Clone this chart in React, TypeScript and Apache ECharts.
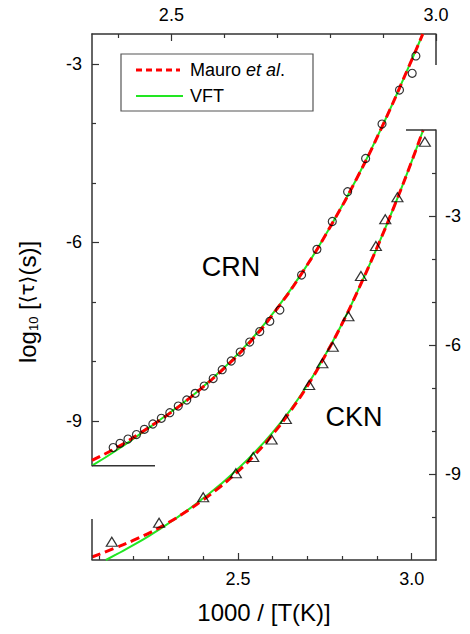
import React, { useEffect, useRef } from 'react';
import * as echarts from 'echarts';

// ---------- CRN (top x-axis, left y-axis) ----------
const crnDataX = [2.390, 2.403, 2.418, 2.434, 2.449, 2.465, 2.481, 2.497, 2.513, 2.529, 2.545, 2.562, 2.579, 2.596, 2.613, 2.630, 2.648, 2.667, 2.686, 2.705, 2.746, 2.775, 2.804, 2.833, 2.867, 2.898, 2.931, 2.955, 2.962];
const crnDataY = [-9.445, -9.374, -9.302, -9.227, -9.139, -9.050, -8.954, -8.860, -8.748, -8.647, -8.535, -8.412, -8.286, -8.138, -7.992, -7.841, -7.673, -7.497, -7.325, -7.136, -6.548, -6.116, -5.649, -5.149, -4.591, -4.012, -3.441, -3.160, -2.869];

const crnVftX = [2.35, 2.40, 2.45, 2.50, 2.55, 2.60, 2.65, 2.70, 2.75, 2.80, 2.85, 2.90, 2.95, 2.975];
const crnVftY = [-9.75, -9.47, -9.16, -8.84, -8.50, -8.10, -7.64, -7.10, -6.47, -5.74, -4.93, -4.02, -3.02, -2.5];

const crnMauroX = [2.35, 2.40, 2.45, 2.50, 2.55, 2.60, 2.65, 2.70, 2.75, 2.80, 2.85, 2.90, 2.95, 2.975];
const crnMauroY = [-9.66, -9.43, -9.15, -8.85, -8.50, -8.11, -7.66, -7.11, -6.47, -5.74, -4.93, -4.02, -3.02, -2.5];

// ---------- CKN (bottom x-axis, right y-axis) ----------
const cknDataX = [2.137, 2.273, 2.400, 2.494, 2.544, 2.597, 2.638, 2.705, 2.743, 2.773, 2.818, 2.854, 2.897, 2.924, 2.959, 3.038];
const cknDataY = [-10.574, -10.133, -9.542, -8.984, -8.605, -8.198, -7.721, -6.930, -6.426, -6.040, -5.333, -4.395, -3.698, -3.077, -2.565, -1.272];

const cknVftX = [2.12, 2.15, 2.20, 2.25, 2.30, 2.35, 2.40, 2.45, 2.50, 2.55, 2.60, 2.65, 2.70, 2.75, 2.80, 2.85, 2.90, 2.95, 3.00, 3.033];
const cknVftY = [-11.0, -10.87, -10.65, -10.41, -10.15, -9.87, -9.565, -9.24, -8.88, -8.48, -8.03, -7.52, -6.93, -6.25, -5.50, -4.65, -3.74, -2.77, -1.73, -1.0];

const cknMauroX = [2.08, 2.15, 2.20, 2.25, 2.30, 2.35, 2.40, 2.45, 2.50, 2.55, 2.60, 2.65, 2.70, 2.75, 2.80, 2.85, 2.90, 2.95, 3.00, 3.033];
const cknMauroY = [-10.93, -10.71, -10.54, -10.35, -10.13, -9.88, -9.60, -9.29, -8.94, -8.54, -8.08, -7.55, -6.95, -6.26, -5.50, -4.65, -3.74, -2.77, -1.73, -1.0];

// ---------- ticks / labels ----------
const topMajor = [2.5, 3.0];
const topMinor = [2.4, 2.6, 2.7, 2.8, 2.9];
const bottomMajor = [2.5, 3.0];
const bottomMinor = [2.1, 2.2, 2.3, 2.4, 2.6, 2.7, 2.8, 2.9];
const leftMajor = [-9, -6, -3];
const leftMinor = [-8, -7, -5, -4];
const rightMajor = [-9, -6, -3];
const rightMinor = [-10, -8, -7, -5, -4, -2];

const zip = (xs: number[], ys: number[]) => xs.map((x, i) => [x, ys[i]]);

const FONT = '"Liberation Sans", Arial, sans-serif';
const AXIS_COLOR = '#333';
const RED = '#ff0000';
const GREEN = '#22e622';

export default function App() {
  const ref = useRef<HTMLDivElement>(null);
  useEffect(() => {
    document.body.style.margin = '0';
    const chart = echarts.init(ref.current!, null, { renderer: 'svg' });

    const tickStyle = { color: AXIS_COLOR, width: 1.2 };
    const labelBase = { show: true, color: '#000', fontSize: 18, fontFamily: FONT, margin: 10 };
    const mainAxis = (pos: string, gridIndex: number, min: number, max: number, major: number[], fmt: (v: number) => string, margin = 10) => ({
      type: 'value', gridIndex, position: pos, min, max,
      axisLine: { show: true, lineStyle: { color: AXIS_COLOR, width: 1.5 } },
      splitLine: { show: false },
      axisTick: { show: true, inside: true, length: 7, customValues: major, lineStyle: tickStyle },
      axisLabel: { ...labelBase, margin, customValues: major, formatter: fmt },
    });
    const minorAxis = (pos: string, gridIndex: number, min: number, max: number, vals: number[]) => ({
      type: 'value', gridIndex, position: pos, min, max,
      axisLine: { show: false },
      splitLine: { show: false },
      axisLabel: { show: false },
      axisTick: { show: true, inside: true, length: 4, customValues: vals, lineStyle: tickStyle },
    });
    const fx = (v: number) => v.toFixed(1);
    const fy = (v: number) => String(v);

    const lineCommon = { smooth: 0.5, symbol: 'none' };

    const option: any = {
      animation: false,
      grid: [
        { left: 92, top: 34, width: 344, height: 431.7, outerBoundsMode: 'none', containLabel: false },
        { left: 92, top: 130, width: 344, height: 430, outerBoundsMode: 'none', containLabel: false },
      ],
      xAxis: [
        mainAxis('top', 0, 2.35, 3.0, topMajor, fx),
        minorAxis('top', 0, 2.35, 3.0, topMinor),
        {
          ...mainAxis('bottom', 1, 2.08, 3.07, bottomMajor, fx),
          name: '1000 / [T(K)]', nameLocation: 'middle', nameGap: 40,
          nameTextStyle: { fontSize: 24, fontFamily: FONT, color: '#000' },
        },
        minorAxis('bottom', 1, 2.08, 3.07, bottomMinor),
      ],
      yAxis: [
        mainAxis('left', 0, -9.75, -2.5, leftMajor, fy),
        minorAxis('left', 0, -9.75, -2.5, leftMinor),
        mainAxis('right', 1, -11, -1, rightMajor, fy, 9),
        minorAxis('right', 1, -11, -1, rightMinor),
      ],
      series: [
        {
          name: 'VFT', type: 'line', xAxisIndex: 0, yAxisIndex: 0, data: zip(crnVftX, crnVftY),
          ...lineCommon, lineStyle: { color: GREEN, width: 2 }, z: 2,
        },
        {
          name: 'Mauro et al.', type: 'line', xAxisIndex: 0, yAxisIndex: 0, data: zip(crnMauroX, crnMauroY),
          ...lineCommon, lineStyle: { color: RED, width: 3, type: [9, 5] }, z: 3,
        },
        {
          name: 'CRN', type: 'scatter', xAxisIndex: 0, yAxisIndex: 0, data: zip(crnDataX, crnDataY),
          symbol: 'circle', symbolSize: 8,
          itemStyle: { color: 'rgba(0,0,0,0)', borderColor: '#000', borderWidth: 1.2 }, z: 4,
        },
        {
          name: 'VFT', type: 'line', xAxisIndex: 2, yAxisIndex: 2, data: zip(cknVftX, cknVftY),
          ...lineCommon, lineStyle: { color: GREEN, width: 2 }, z: 2,
        },
        {
          name: 'Mauro et al.', type: 'line', xAxisIndex: 2, yAxisIndex: 2, data: zip(cknMauroX, cknMauroY),
          ...lineCommon, lineStyle: { color: RED, width: 3, type: [9, 5] }, z: 3,
        },
        {
          name: 'CKN', type: 'scatter', xAxisIndex: 2, yAxisIndex: 2, data: zip(cknDataX, cknDataY),
          symbol: 'triangle', symbolSize: [11, 9],
          itemStyle: { color: 'rgba(0,0,0,0)', borderColor: '#000', borderWidth: 1.2 }, z: 4,
        },
      ],
      graphic: [
        // partial frame pieces
        { type: 'line', z: 50, shape: { x1: 436, y1: 34, x2: 436, y2: 65 }, style: { stroke: AXIS_COLOR, lineWidth: 1.5 } },
        { type: 'line', z: 50, shape: { x1: 92, y1: 465.7, x2: 155, y2: 465.7 }, style: { stroke: AXIS_COLOR, lineWidth: 1.5 } },
        { type: 'line', z: 50, shape: { x1: 92, y1: 519, x2: 92, y2: 560 }, style: { stroke: AXIS_COLOR, lineWidth: 1.5 } },
        { type: 'line', z: 50, shape: { x1: 406, y1: 130, x2: 436, y2: 130 }, style: { stroke: AXIS_COLOR, lineWidth: 1.5 } },
        // legend
        { type: 'rect', z: 60, shape: { x: 121, y: 54, width: 192, height: 57 }, style: { fill: '#fff', stroke: '#555', lineWidth: 1.2 } },
        { type: 'line', z: 61, shape: { x1: 136, y1: 70, x2: 180, y2: 70 }, style: { stroke: RED, lineWidth: 3, lineDash: [6, 4] } },
        { type: 'line', z: 61, shape: { x1: 136, y1: 96, x2: 183, y2: 96 }, style: { stroke: GREEN, lineWidth: 2 } },
        {
          type: 'text', z: 61, x: 190, y: 70,
          style: {
            text: '{n|Mauro }{i|et al}{n|.}', verticalAlign: 'middle', align: 'left',
            rich: {
              n: { fontSize: 18, fontFamily: FONT, fill: '#000' },
              i: { fontSize: 18, fontFamily: FONT, fontStyle: 'italic', fill: '#000' },
            },
          },
        },
        {
          type: 'text', z: 61, x: 190, y: 96,
          style: { text: 'VFT', fontSize: 18, fontFamily: FONT, fill: '#000', verticalAlign: 'middle', align: 'left' },
        },
        // labels
        { type: 'text', z: 61, x: 231, y: 267, style: { text: 'CRN', fontSize: 27, fontFamily: FONT, fill: '#000', align: 'center', verticalAlign: 'middle' } },
        { type: 'text', z: 61, x: 354, y: 417, style: { text: 'CKN', fontSize: 27, fontFamily: FONT, fill: '#000', align: 'center', verticalAlign: 'middle' } },
        // y-axis title
        {
          type: 'text', z: 61, x: 27, y: 302, rotation: Math.PI / 2,
          style: {
            text: '{n|log}{s|10}{n| [}{b|⟨τ⟩}{n|(s)]}', align: 'center', verticalAlign: 'middle',
            rich: {
              n: { fontSize: 24, fontFamily: FONT, fill: '#000', lineHeight: 26 },
              b: { fontSize: 20, fontFamily: '"DejaVu Sans", sans-serif', fill: '#000', lineHeight: 26 },
              s: { fontSize: 13, fontFamily: FONT, fill: '#000', verticalAlign: 'bottom', lineHeight: 14 },
            },
          },
        },
      ],
    };
    chart.setOption(option);
    return () => chart.dispose();
  }, []);
  return <div ref={ref} style={{ width: 470, height: 634 }} />;
}
